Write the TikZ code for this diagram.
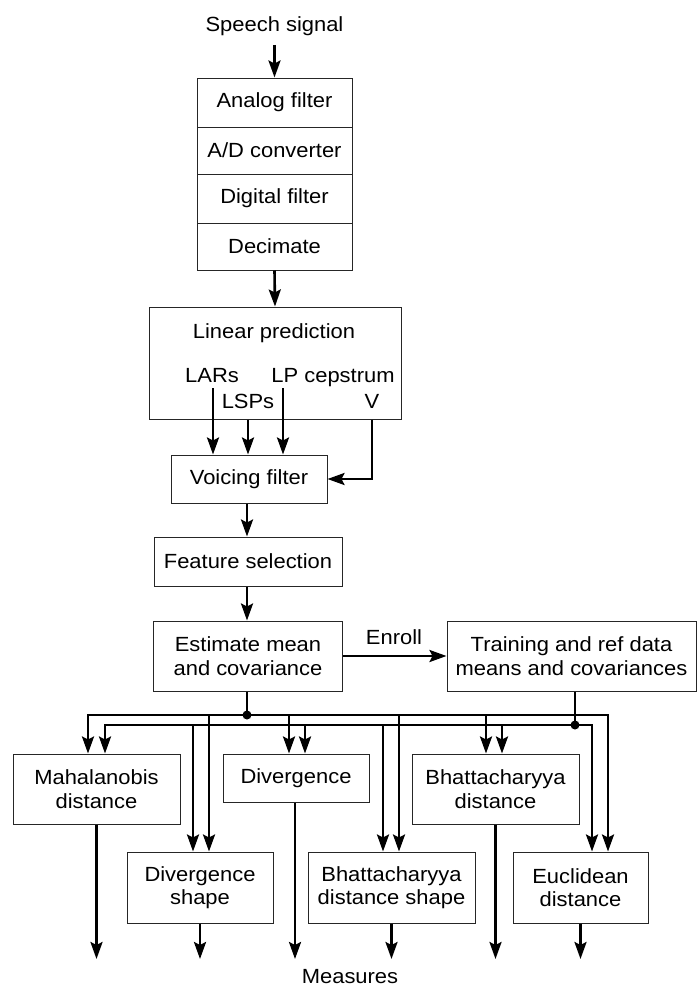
\documentclass[tikz,border=0pt]{standalone}
\usepackage{fontspec}
\setmainfont{Liberation Sans}[FakeStretch=1.07]
\usetikzlibrary{arrows.meta}
\begin{document}
\begin{tikzpicture}[x=1pt,y=-1pt,
  every node/.style={font=\fontsize{20.5}{23.5}\selectfont, inner sep=0pt, align=center},
  box/.style={draw=black!85, line width=1pt},
  wire/.style={line width=2.6pt},
  tip/.tip={Stealth[length=17pt,width=12pt,inset=3pt]},
  arr/.style={wire, -tip},
  arrboth/.style={wire, line join=miter, tip-tip},
  dot/.style={circle, fill=black, minimum size=9pt, inner sep=0pt}
]
\useasboundingbox (0,0) rectangle (697,990);

% input and front-end stack
\node[anchor=base] (speech) at (274.5,32) {Speech signal};
\node[box, minimum width=155pt, minimum height=49pt] (s1) at (274.5,102.5) {Analog filter};
\node[box, minimum width=155pt, minimum height=47pt] (s2) at (274.5,150.5) {A/D converter};
\node[box, minimum width=155pt, minimum height=49pt] (s3) at (274.5,198.5) {Digital filter};
\node[box, minimum width=155pt, minimum height=47pt] (s4) at (274.5,246.5) {Decimate};
\coordinate (speechout) at (274.5,45);
\draw[arr] (speechout) -- (s1.north);

% linear prediction block
\node[box, minimum width=252pt, minimum height=112pt] (lp) at (275,363) {};
\draw[arr] (s4.south) -- (lp.north);
\node[anchor=base] (lptitle) at (274,338) {Linear prediction};
\node[anchor=base] (lars) at (212,382) {LARs};
\node[anchor=base] (lpc) at (333,382) {LP cepstrum};
\node[anchor=base] (lsps) at (248,408) {LSPs};
\node[anchor=base] (vv) at (372,408) {V};

% voicing filter and feature selection
\node[box, minimum width=156pt, minimum height=48pt] (vf) at (249,479) {Voicing filter};
\coordinate (larsout) at (213,388);
\coordinate (lpcout) at (283,388);
\draw[arr] (larsout) -- (larsout |- vf.north);
\draw[arr] (lp.south -| lsps) -- (lsps |- vf.north);
\draw[arr] (lpcout) -- (lpcout |- vf.north);
\draw[arr, line join=miter] (lp.south -| vv) |- (vf.east);

\node[box, minimum width=188pt, minimum height=49pt] (fs) at (248,561.5) {Feature selection};
\coordinate (spine) at (247,0);
\draw[arr] (vf.south -| spine) -- (fs.north -| spine);

% statistics
\node[box, minimum width=189pt, minimum height=70pt] (est) at (248,656) {Estimate mean\\and covariance};
\draw[arr] (fs.south -| spine) -- (est.north -| spine);
\node[box, minimum width=249pt, minimum height=70pt] (train) at (571.5,656) {Training and ref data\\means and covariances};
\draw[arr] (est.east) -- (train.west);
\node[anchor=base] (enroll) at (394,644) {Enroll};

% measures
\node[box, minimum width=167pt, minimum height=70pt] (mahal) at (96.5,789) {Mahalanobis\\distance};
\node[box, minimum width=146pt, minimum height=48pt] (div) at (296,778) {Divergence};
\node[box, minimum width=167pt, minimum height=70pt] (bhatt) at (495.5,789) {Bhattacharyya\\distance};
\node[box, minimum width=146pt, minimum height=71pt] (divs) at (200,887.5) {Divergence\\shape};
\node[box, minimum width=167pt, minimum height=71pt] (bhs) at (391.5,887.5) {Bhattacharyya\\distance shape};
\node[box, minimum width=135pt, minimum height=71pt] (eucl) at (580.5,887.5) {Euclidean\\distance};

% distribution buses
\coordinate (j1) at (247,715);
\coordinate (j2) at (575,725);
\coordinate (uA) at (88,715);  \coordinate (uB) at (209,715); \coordinate (uC) at (289,715);
\coordinate (uD) at (399,715); \coordinate (uE) at (486,715); \coordinate (uF) at (608,715);
\coordinate (lA) at (105,725); \coordinate (lB) at (193,725); \coordinate (lC) at (305,725);
\coordinate (lD) at (383,725); \coordinate (lE) at (502,725); \coordinate (lF) at (592,725);

\draw[wire] (est.south -| j1) -- (j1);
\draw[arrboth] (uA |- mahal.north) -- (uA) -- (uF) -- (uF |- eucl.north);
\draw[arr] (uB) -- (uB |- divs.north);
\draw[arr] (uC) -- (uC |- div.north);
\draw[arr] (uD) -- (uD |- bhs.north);
\draw[arr] (uE) -- (uE |- bhatt.north);

\draw[wire] (train.south -| j2) -- (j2);
\draw[arrboth] (lA |- mahal.north) -- (lA) -- (lF) -- (lF |- eucl.north);
\draw[arr] (lB) -- (lB |- divs.north);
\draw[arr] (lC) -- (lC |- div.north);
\draw[arr] (lD) -- (lD |- bhs.north);
\draw[arr] (lE) -- (lE |- bhatt.north);

\node[dot] at (j1) {};
\node[dot] at (j2) {};

% outputs
\coordinate (outlevel) at (0,959);
\draw[arr] (mahal.south) -- (mahal.south |- outlevel);
\draw[arr] (divs.south) -- (divs.south |- outlevel);
\draw[arr] (div.south -| 295,0) -- (295,959);
\draw[arr] (bhs.south) -- (bhs.south |- outlevel);
\draw[arr] (bhatt.south) -- (bhatt.south |- outlevel);
\draw[arr] (eucl.south) -- (eucl.south |- outlevel);
\node[anchor=base] (measures) at (350,983) {Measures};
\end{tikzpicture}
\end{document}
